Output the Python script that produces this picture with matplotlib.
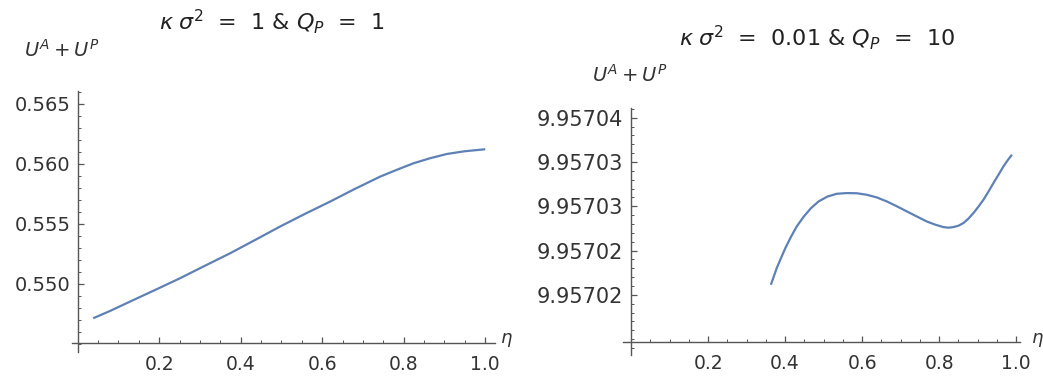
import matplotlib
matplotlib.use("Agg")
import matplotlib.pyplot as plt
from matplotlib.ticker import MultipleLocator

# ---------------- data ----------------
eta_left = [0.038, 0.08, 0.128, 0.19, 0.251, 0.31, 0.374, 0.435, 0.496, 0.557, 0.619, 0.68,
            0.742, 0.785, 0.824, 0.865, 0.906, 0.95, 1.0]
u_left = [0.547142, 0.547760, 0.548525, 0.549500, 0.550475, 0.551480, 0.552558, 0.553660,
          0.554775, 0.555830, 0.556858, 0.557920, 0.558942, 0.559540, 0.560058, 0.560480,
          0.560833, 0.561060, 0.561225]

eta_right = [0.363, 0.370, 0.378, 0.389, 0.401, 0.415, 0.430, 0.448, 0.467, 0.487, 0.510,
             0.534, 0.560, 0.586, 0.612, 0.638, 0.664, 0.690, 0.716, 0.742, 0.768,
             0.790, 0.811, 0.824, 0.837, 0.850, 0.863, 0.876, 0.889, 0.902, 0.915, 0.928,
             0.941, 0.954, 0.967, 0.978, 0.989]
u_right = [9.95702113, 9.95702199, 9.95702299, 9.95702412, 9.95702531, 9.95702653, 9.95702771,
           9.95702881, 9.95702978, 9.95703055, 9.95703110, 9.95703141, 9.95703149,
           9.95703147, 9.95703130, 9.95703100, 9.95703055, 9.95703000, 9.95702942,
           9.95702885, 9.95702828, 9.95702792, 9.95702765, 9.95702758, 9.95702765, 9.95702780,
           9.95702810, 9.95702860, 9.95702923, 9.95702995, 9.95703073, 9.95703165, 9.95703262,
           9.95703355, 9.95703450, 9.95703520, 9.95703582]

x_ticks = [0.2, 0.4, 0.6, 0.8, 1.0]
x_tick_labels = ["0.2", "0.4", "0.6", "0.8", "1.0"]
y_ticks_left = [0.550, 0.555, 0.560, 0.565]
y_tick_labels_left = ["0.550", "0.555", "0.560", "0.565"]
y_ticks_right = [9.957020, 9.957025, 9.957030, 9.957035, 9.957040]
y_tick_labels_right = ["9.95702", "9.95702", "9.95703", "9.95703", "9.95704"]

title_left = r"$\kappa\;\sigma^2$  =  1 & $Q_P$  =  1"
title_right = r"$\kappa\;\sigma^2$  =  0.01 & $Q_P$  =  10"
ylabel = r"$U^A + U^P$"
xlabel = r"$\eta$"

# ---------------- style ----------------
plt.rcParams["font.family"] = ["DejaVu Sans"]
plt.rcParams["mathtext.fontset"] = "dejavusans"

W, H = 1043, 381
fig = plt.figure(figsize=(W / 100, H / 100), dpi=100)

LINE = "#5E81B5"
AXC = "#555555"
TXT = "#333333"


def px_axes(left, top, right, bottom):
    return fig.add_axes([left / W, 1 - bottom / H, (right - left) / W, (bottom - top) / H])


def style(ax, xlim, ylim, xaxis_y, yt, ytl, ymin, ysize, ypad):
    ax.set_xlim(*xlim)
    ax.set_ylim(*ylim)
    for s in ("top", "right"):
        ax.spines[s].set_visible(False)
    ax.spines["left"].set_position(("data", 0))
    ax.spines["bottom"].set_position(("data", xaxis_y))
    for s in ("left", "bottom"):
        ax.spines[s].set_color(AXC)
        ax.spines[s].set_linewidth(1.0)
    ax.set_xticks(x_ticks, x_tick_labels)
    ax.set_yticks(yt, ytl)
    ax.xaxis.set_minor_locator(MultipleLocator(0.05))
    ax.yaxis.set_minor_locator(MultipleLocator(ymin))
    ax.tick_params(which="both", direction="in", colors=AXC, labelcolor=TXT)
    ax.tick_params(axis="x", labelsize=13.5)
    ax.tick_params(axis="y", labelsize=ysize)
    ax.tick_params(which="major", length=4.5, width=0.9)
    ax.tick_params(which="minor", length=2.5, width=0.7)
    ax.tick_params(axis="x", which="major", pad=9)
    ax.tick_params(axis="y", which="major", pad=ypad)
    ax.patch.set_alpha(0)


# left panel
axL = px_axes(72, 91, 495, 352)
axL.plot(eta_left, u_left, color=LINE, lw=1.6, solid_capstyle="butt")
style(axL, (-0.014, 1.024), (0.54433, 0.56608), 0.54508, y_ticks_left, y_tick_labels_left,
      0.001, 14, 5)

# right panel
axR = px_axes(623, 108, 1020, 355)
axR.plot(eta_right, u_right, color=LINE, lw=1.6, solid_capstyle="butt")
style(axR, (-0.021, 1.010), (9.9570132, 9.9570411), 9.9570147, y_ticks_right, y_tick_labels_right,
      1e-6, 15, 6)


def ftext(x, y, s, size, color="#222222"):
    fig.text(x / W, 1 - y / H, s, fontsize=size, color=color, ha="center", va="center")


ftext(272, 22, title_left, 16)
ftext(817, 38, title_right, 16)
ftext(62, 50, ylabel, 14, TXT)
ftext(630, 75, ylabel, 14, TXT)
ftext(506, 340, xlabel, 13, TXT)
ftext(1037, 340, xlabel, 13, TXT)

fig.savefig("out.png", dpi=100)
